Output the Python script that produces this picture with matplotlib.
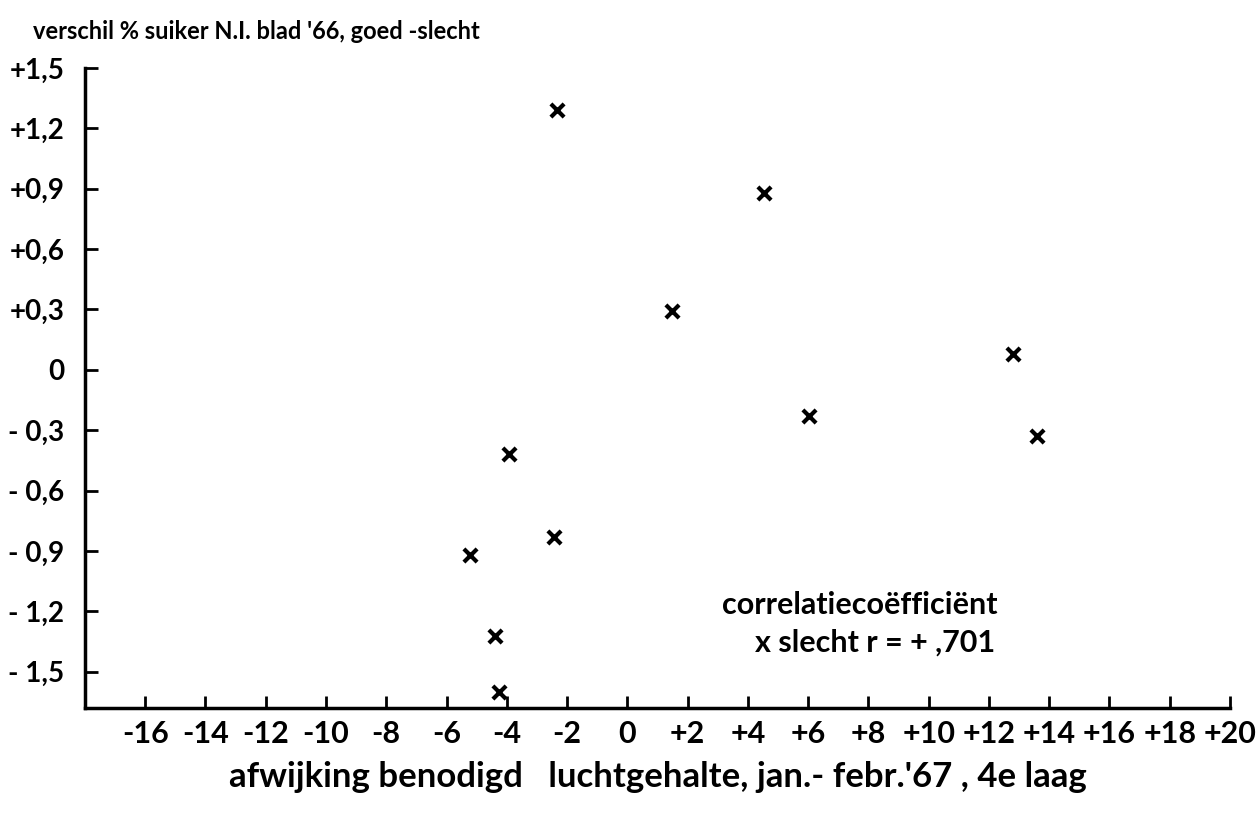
import matplotlib.pyplot as plt

# afwijking luchtgehalte (x) en verschil % suiker (y)
lucht = [-2.35, 4.54, 1.49, 12.81, 6.03, 13.58, -3.94, -2.45, -5.23, -4.40, -4.27]
suiker = [1.29, 0.88, 0.29, 0.08, -0.23, -0.33, -0.42, -0.83, -0.92, -1.32, -1.60]

x_ticks = list(range(-16, 21, 2))
x_labels = ['-16', '-14', '-12', '-10', '-8', '-6', '-4', '-2', '0',
            '+2', '+4', '+6', '+8', '+10', '+12', '+14', '+16', '+18', '+20']
y_ticks = [1.5, 1.2, 0.9, 0.6, 0.3, 0, -0.3, -0.6, -0.9, -1.2, -1.5]
y_labels = ['+1,5', '+1,2', '+0,9', '+0,6', '+0,3', '0',
            '- 0,3', '- 0,6', '- 0,9', '- 1,2', '- 1,5']

plt.rcParams['font.family'] = ['Lato', 'DejaVu Sans']
plt.rcParams['font.weight'] = 'bold'

fig = plt.figure(figsize=(12.57, 8.16), dpi=100)
ax = fig.add_axes([0.0676, 0.1324, 0.9109, 0.7843])

ax.scatter(lucht, suiker, marker='x', s=90, linewidths=3, color='black')

ax.set_xlim(-18, 20)
ax.set_ylim(-1.68, 1.5)

ax.spines['top'].set_visible(False)
ax.spines['right'].set_visible(False)
for side in ['left', 'bottom']:
    ax.spines[side].set_linewidth(2.5)

ax.set_xticks(x_ticks)
ax.set_xticklabels(x_labels)
ax.set_yticks(y_ticks)
ax.set_yticklabels(y_labels)
ax.tick_params(direction='in', length=9, width=2, labelsize=22, pad=9)
ax.tick_params(axis='y', labelsize=20, pad=15)

ax.set_xlabel("afwijking benodigd   luchtgehalte, jan.- febr.'67 , 4e laag",
              fontsize=25, fontweight='bold', labelpad=9)
fig.text(0.026, 0.962, "verschil % suiker N.I. blad '66, goed -slecht",
         fontsize=17, fontweight='bold', ha='left', va='center')

ax.text(3.15, -1.17, 'correlatiecoëfficiënt', fontsize=22, fontweight='bold',
        ha='left', va='center')
ax.text(4.24, -1.355, 'x slecht r = + ,701', fontsize=22, fontweight='bold',
        ha='left', va='center')

fig.savefig('out.png', dpi=100)
